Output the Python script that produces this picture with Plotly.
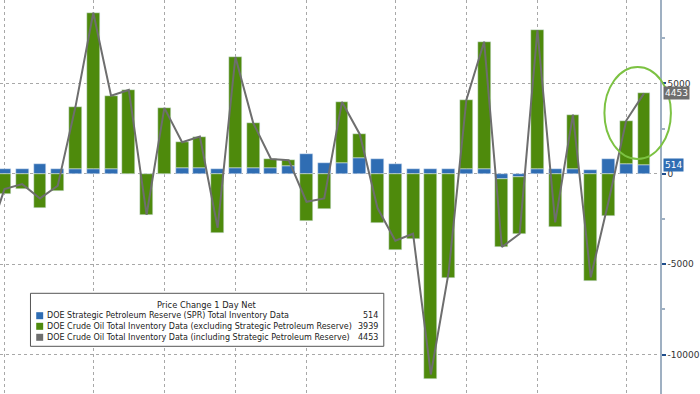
import plotly.graph_objects as go

# ---- data (thousand barrels, weekly change) ----
weeks = list(range(1, 38))
spr = [276, 276, 516, 276, 276, 276, 276, 0, 0, 0, 331, 331, 276, 331, 331, 331, 442,
       1087, 608, 608, 884, 829, 534, 276, 276, 276, 276, 276, -276, -150, 276, 276,
       276, 221, 792, 552, 514]
crude_ex = [-1123, -847, -1878, -939, 3444, 8637, 4052, 4641, -2265, 3646, 1419, 1732,
            -3260, 6133, 2487, 490, 313, -2634, -1970, 3370, 1308, -2726, -4236, -3591,
            -11381, -5746, 3812, 7035, -3776, -3165, 7680, -2965, 3002, -5948, -2339,
            2395, 3939]
line_weeks = list(range(0, 38))
total = [-3800, -847, -571, -1362, -663, 3720, 8913, 4328, 4641, -2265, 3646, 1750, 2063,
         -2984, 6464, 2818, 821, 755, -1547, -1362, 3978, 2192, -1897, -3702, -3315,
         -11105, -5470, 4088, 7311, -4052, -3315, 7956, -2689, 3278, -5727, -1547,
         2947, 4453]
month_starts = [1, 6, 10, 14, 18, 23, 27, 31, 36]
y_ticks = [-10000, -5000, 0, 5000]

series_names = [
    "DOE Strategic Petroleum Reserve (SPR) Total Inventory Data",
    "DOE Crude Oil Total Inventory Data (excluding Strategic Petroleum Reserve)",
    "DOE Crude Oil Total Inventory Data (including Strategic Petroleum Reserve)",
]
last_values = [spr[-1], crude_ex[-1], total[-1]]

BLUE = "#2f6db3"
GREEN = "#4e8a0c"
GREY = "#6e6e6e"
FONT = "DejaVu Sans"

W, H = 700, 394
R = 35
PW = W - R  # plot width in px


def px(x):
    return x / PW


def py(y):
    return 1 - y / H


fig = go.Figure()
fig.add_trace(go.Bar(x=weeks, y=spr, marker_color=BLUE, width=0.726, name=series_names[0]))
fig.add_trace(go.Bar(x=weeks, y=crude_ex, marker_color=GREEN, width=0.726, name=series_names[1]))
fig.add_trace(go.Scatter(x=line_weeks, y=total, mode="lines",
                         line=dict(color=GREY, width=2), name=series_names[2]))

shapes = []
annotations = []

# legend box
shapes.append(dict(type="rect", xref="paper", yref="paper",
                   x0=px(30.7), x1=px(386.7), y0=py(346.3), y1=py(293.3),
                   line=dict(color="#555555", width=1), fillcolor="white", layer="above"))
annotations.append(dict(xref="paper", yref="paper", x=px(208.7), y=py(304.7),
                        text="Price Change 1 Day Net", showarrow=False,
                        xanchor="center", yanchor="middle",
                        font=dict(family=FONT, size=8.3, color="#222222")))
row_y = [315.7, 326.3, 337.3]
colors = [BLUE, GREEN, GREY]
for name, val, c, ry in zip(series_names, last_values, colors, row_y):
    shapes.append(dict(type="rect", xref="paper", yref="paper",
                       x0=px(36.5), x1=px(43.5), y0=py(ry + 3.5), y1=py(ry - 3.5),
                       line=dict(width=0), fillcolor=c, layer="above"))
    annotations.append(dict(xref="paper", yref="paper", x=px(45.5), y=py(ry),
                            text=name, showarrow=False, xanchor="left", yanchor="middle",
                            font=dict(family=FONT, size=8.0, color="#222222")))
    annotations.append(dict(xref="paper", yref="paper", x=px(383), y=py(ry),
                            text=str(val), showarrow=False, xanchor="right", yanchor="middle",
                            font=dict(family=FONT, size=8.0, color="#222222")))

# highlight ellipse
shapes.append(dict(type="circle", xref="paper", yref="paper",
                   x0=px(609), x1=px(676), y0=py(159), y1=py(67),
                   line=dict(color="#7cc242", width=2), layer="above"))

# axis value labels
for val, c in [(total[-1], GREY), (spr[-1], BLUE)]:
    annotations.append(dict(xref="paper", yref="y", x=1, y=val, xshift=3,
                            text=str(val), showarrow=False, xanchor="left", yanchor="middle",
                            bgcolor=c, borderpad=1,
                            font=dict(family=FONT, size=9, color="white")))

fig.update_layout(
    width=W, height=H,
    margin=dict(l=0, r=R, t=0, b=0),
    paper_bgcolor="white", plot_bgcolor="white",
    barmode="relative", bargap=0,
    showlegend=False,
    shapes=shapes, annotations=annotations,
    xaxis=dict(range=[0.749, 37.9], tickvals=month_starts, showticklabels=False,
               showgrid=True, gridcolor="#a8a8a8", griddash="dot", gridwidth=1,
               zeroline=False, showline=False, ticks=""),
    yaxis=dict(range=[-12186, 9618], side="right", tickvals=y_ticks,
               ticktext=[str(v) for v in y_ticks],
               showgrid=True, gridcolor="#a8a8a8", griddash="dot", gridwidth=1,
               zeroline=False, showline=True, linecolor="#9fb0c2", linewidth=1.5,
               ticks="outside", ticklen=4, tickcolor="#1f4e8c", tickwidth=2,
               minor=dict(dtick=2500, tick0=0, ticks="outside", ticklen=3,
                          tickcolor="#9fb0c2", showgrid=False),
               tickfont=dict(family=FONT, size=9, color="#333333")),
    font=dict(family=FONT),
)

fig.write_html("out.html", config={"displayModeBar": False},
               post_script="document.body.style.margin='0';document.body.style.overflow='hidden';")
